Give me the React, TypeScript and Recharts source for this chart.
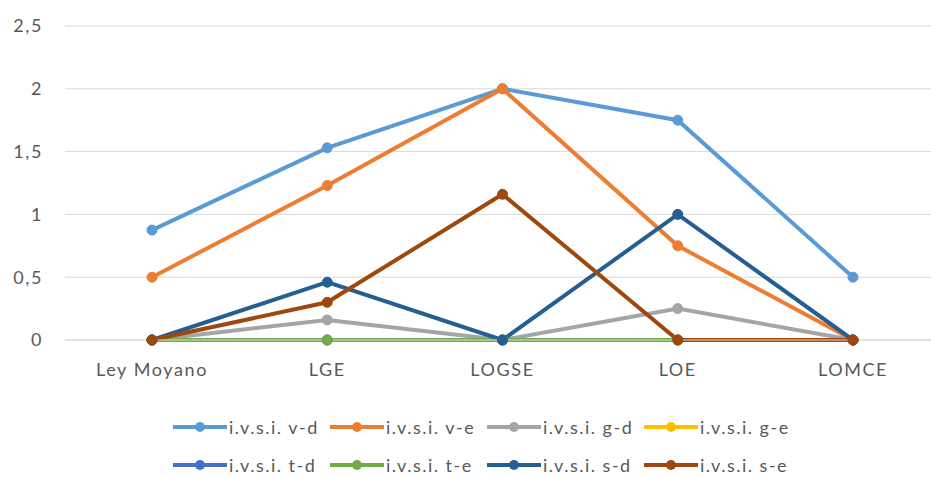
import { LineChart, Line, XAxis, YAxis, CartesianGrid } from "recharts";

const leyes = ["Ley Moyano", "LGE", "LOGSE", "LOE", "LOMCE"];

const vd = [0.875, 1.53, 2, 1.75, 0.5];
const ve = [0.5, 1.23, 2, 0.75, 0];
const gd = [0, 0.16, 0, 0.25, 0];
const ge = [0, 0, 0, 0, 0];
const td = [0, 0, 0, 0, 0];
const te = [0, 0, 0, 0, 0];
const sd = [0, 0.46, 0, 1, 0];
const se = [0, 0.3, 1.16, 0, 0];

const yTicks = [0, 0.5, 1, 1.5, 2, 2.5];

const series = [
  { key: "vd", name: "i.v.s.i. v-d", values: vd, color: "#5B9BD5" },
  { key: "ve", name: "i.v.s.i. v-e", values: ve, color: "#ED7D31" },
  { key: "gd", name: "i.v.s.i. g-d", values: gd, color: "#A5A5A5" },
  { key: "ge", name: "i.v.s.i. g-e", values: ge, color: "#FFC000" },
  { key: "td", name: "i.v.s.i. t-d", values: td, color: "#4472C4" },
  { key: "te", name: "i.v.s.i. t-e", values: te, color: "#70AD47" },
  { key: "sd", name: "i.v.s.i. s-d", values: sd, color: "#255E91" },
  { key: "se", name: "i.v.s.i. s-e", values: se, color: "#9E480E" },
];

const data = leyes.map((ley, i) => {
  const row: Record<string, string | number> = { ley };
  series.forEach((s) => {
    row[s.key] = s.values[i];
  });
  return row;
});

const font = "Lato, 'Open Sans', sans-serif";
const tickStyle = { fill: "#595959", fontSize: 18, fontFamily: font, letterSpacing: 1.6 };

const LegendItem = ({ name, color }: { name: string; color: string }) => (
  <div style={{ display: "flex", alignItems: "center", width: 157, height: 38 }}>
    <svg width={54} height={12}>
      <line x1={0} y1={6} x2={54} y2={6} stroke={color} strokeWidth={4} />
      <circle cx={27} cy={6} r={5} fill={color} />
    </svg>
    <span style={{ marginLeft: 2, fontSize: 18, letterSpacing: 1.5, color: "#595959" }}>{name}</span>
  </div>
);

const App = () => {
  return (
    <div
      style={{
        position: "absolute",
        left: 0,
        top: 0,
        width: 931,
        height: 477,
        background: "#fff",
        fontFamily: font,
      }}
    >
      <LineChart
        width={931}
        height={477}
        data={data}
        margin={{ top: 26, right: 0, bottom: 107, left: 0 }}
      >
        <CartesianGrid vertical={false} stroke="#d9d9d9" />
        <XAxis
          dataKey="ley"
          height={30}
          padding={{ left: 87, right: 78 }}
          axisLine={{ stroke: "#d9d9d9" }}
          tickLine={false}
          tickMargin={17}
          tick={tickStyle}
        />
        <YAxis
          width={65}
          domain={[0, 2.5]}
          ticks={yTicks}
          axisLine={false}
          tickLine={false}
          tickSize={0}
          tickMargin={22}
          tickFormatter={(v: number) => String(v).replace(".", ",")}
          tick={tickStyle}
        />
        {series.map((s) => (
          <Line
            key={s.key}
            dataKey={s.key}
            name={s.name}
            stroke={s.color}
            strokeWidth={4}
            dot={{ r: 5, fill: s.color, stroke: s.color, strokeWidth: 1 }}
            isAnimationActive={false}
          />
        ))}
      </LineChart>
      <div style={{ position: "absolute", left: 173, top: 408, display: "flex", flexWrap: "wrap", width: 640 }}>
        {series.map((s) => (
          <LegendItem key={s.key} name={s.name} color={s.color} />
        ))}
      </div>
    </div>
  );
};

export default App;
